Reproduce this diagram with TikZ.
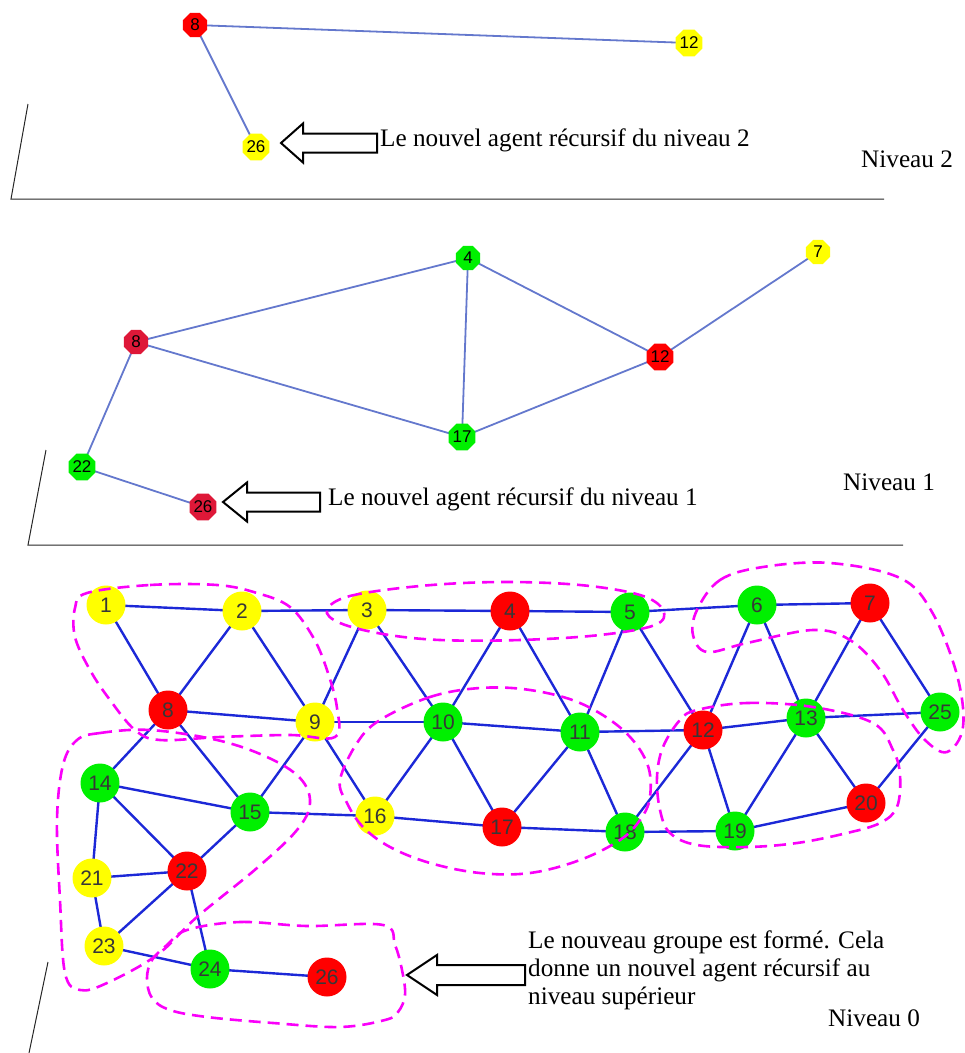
\documentclass[tikz,border=0pt]{standalone}
\usepackage{fontspec}
\setmainfont{Liberation Serif}
\newfontfamily\numfont{Liberation Sans}
\usetikzlibrary{shapes.geometric}
\definecolor{nred}{RGB}{255,0,0}
\definecolor{ncrim}{RGB}{222,24,56}
\definecolor{nyel}{RGB}{255,255,0}
\definecolor{ngreen}{RGB}{0,240,0}
\definecolor{eblue}{RGB}{28,40,215}
\definecolor{lblue}{RGB}{100,120,205}
\definecolor{grpcol}{RGB}{250,0,250}
\definecolor{numgray}{RGB}{55,55,55}
\tikzset{
  big/.style={circle,inner sep=0pt,minimum size=39pt,font=\numfont\fontsize{21}{21}\selectfont,text=numgray},
  small/.style={regular polygon,regular polygon sides=8,inner sep=0pt,minimum size=26pt,font=\numfont\fontsize{17}{17}\selectfont,text=black},
  fr/.style={fill=nred}, fc/.style={fill=ncrim}, fy/.style={fill=nyel}, fg/.style={fill=ngreen},
  e0/.style={draw=eblue,line width=2.4pt},
  e1/.style={draw=lblue,line width=1.8pt},
  grp/.style={draw=grpcol,line width=2.6pt,dash pattern=on 12pt off 7pt},
  plane/.style={draw=black!85,line width=1pt},
  barrow/.style={draw=black,line width=2pt,fill=white,line join=miter},
  lbl/.style={font=\fontsize{25.2}{28}\selectfont,inner sep=0pt,anchor=base west},
}
\begin{document}
\begin{tikzpicture}[x=1pt,y=-1pt]
\useasboundingbox (0,0) rectangle (965,1053);
% ---------- planes ----------
\draw[plane] (28,104) -- (11,199) -- (884,199);
\draw[plane] (46,450) -- (28,545) -- (903,545);
\draw[plane] (48,962) -- (29,1053);
% ---------- level 2 ----------
\coordinate (q8) at (195,25);
\coordinate (q12) at (689,43);
\coordinate (q26) at (256,147);
\draw[e1] (q8) -- (q12);
\draw[e1] (q8) -- (q26);
\node[small,fr] (b8) at (q8) {8};
\node[small,fy] (b12) at (q12) {12};
\node[small,fy] (b26) at (q26) {26};
\coordinate (t2) at (281,143);
\draw[barrow] (t2) -- ++(22,-19.5) -- ++(0,10) -- ++(74,0) -- ++(0,19) -- ++(-74,0) -- ++(0,10) -- cycle;
\node[lbl] (txt2) at (380,146) {Le nouvel agent récursif du niveau 2};
\node[lbl] (niv2) at (861,167) {Niveau 2};
% ---------- level 1 ----------
\coordinate (a4) at (468,258);
\coordinate (a7) at (818,252);
\coordinate (a8) at (136,342);
\coordinate (a12) at (660,357);
\coordinate (a17) at (462,437);
\coordinate (a22) at (82,467);
\coordinate (a26) at (203,507);
\draw[e1] (a8) -- (a4);
\draw[e1] (a4) -- (a17);
\draw[e1] (a4) -- (a12);
\draw[e1] (a12) -- (a7);
\draw[e1] (a8) -- (a17);
\draw[e1] (a17) -- (a12);
\draw[e1] (a8) -- (a22);
\draw[e1] (a22) -- (a26);
\node[small,fg] (n4) at (a4) {4};
\node[small,fy] (n7) at (a7) {7};
\node[small,fc] (n8) at (a8) {8};
\node[small,fr] (n12) at (a12) {12};
\node[small,fg] (n17) at (a17) {17};
\node[small,fg] (n22) at (a22) {22};
\node[small,fc] (n26) at (a26) {26};
\coordinate (t1) at (223,502);
\draw[barrow] (t1) -- ++(24,-19.5) -- ++(0,10) -- ++(73,0) -- ++(0,19) -- ++(-73,0) -- ++(0,10) -- cycle;
\node[lbl] (txt1) at (328,505) {Le nouvel agent récursif du niveau 1};
\node[lbl] (niv1) at (843,490) {Niveau 1};
% ---------- level 0 ----------
\coordinate (p1) at (106,605);
\coordinate (p2) at (242,611);
\coordinate (p3) at (367,610);
\coordinate (p4) at (510,611);
\coordinate (p5) at (630,612);
\coordinate (p6) at (757,605);
\coordinate (p7) at (870,603);
\coordinate (p8) at (168,710);
\coordinate (p9) at (315,722);
\coordinate (p10) at (443,722);
\coordinate (p11) at (580,732);
\coordinate (p12) at (703,730);
\coordinate (p13) at (806,718);
\coordinate (p25) at (940,712);
\coordinate (p14) at (100,783);
\coordinate (p15) at (250,812);
\coordinate (p16) at (375,816);
\coordinate (p17) at (502,827);
\coordinate (p18) at (625,832);
\coordinate (p19) at (735,831);
\coordinate (p20) at (866,803);
\coordinate (p21) at (92,878);
\coordinate (p22) at (187,871);
\coordinate (p23) at (104,946);
\coordinate (p24) at (210,969);
\coordinate (p26) at (327,977);
\foreach \a/\b in {1/2,2/3,3/4,4/5,5/6,6/7,
  1/8,2/8,2/9,3/9,3/10,4/10,4/11,5/11,5/12,6/12,6/13,7/13,7/25,
  8/9,9/10,10/11,11/12,12/13,13/25,
  8/14,8/15,9/15,9/16,10/16,10/17,11/17,11/18,12/18,12/19,13/19,13/20,25/20,
  14/15,15/16,16/17,17/18,18/19,19/20,
  14/21,14/22,15/22,21/22,21/23,22/23,22/24,23/24,24/26}
  \draw[e0] (p\a) -- (p\b);
\foreach \n/\c in {1/fy,2/fy,3/fy,4/fr,5/fg,6/fg,7/fr,8/fr,9/fy,10/fg,11/fg,12/fr,13/fg,25/fg,
  14/fg,15/fg,16/fy,17/fr,18/fg,19/fg,20/fr,21/fy,22/fr,23/fy,24/fg,26/fr}
  \node[big,\c] (m\n) at (p\n) {\n};
% groups
\draw[grp] plot[smooth cycle,tension=0.6] coordinates {(87,593) (150,585) (217,585) (257,593) (290,607) (313,637) (327,670) (337,708) (335,737) (290,735) (220,737) (160,740) (135,730) (110,700) (90,670) (75,637) (75,608)};
\draw[grp] plot[smooth cycle,tension=0.6] coordinates {(327,610) (350,596) (420,586) (500,582) (580,585) (640,595) (663,610) (655,625) (600,635) (520,640) (440,640) (383,634) (340,623)};
\draw[grp] plot[smooth cycle,tension=0.6] coordinates {(77,740) (100,733) (150,730) (217,740) (267,757) (300,778) (310,803) (297,830) (257,868) (197,917) (157,955) (107,983) (80,990) (65,973) (60,900) (57,820) (63,765)};
\draw[grp] plot[smooth cycle,tension=0.6] coordinates {(187,930) (240,922) (307,926) (383,925) (395,945) (402,970) (405,995) (398,1012) (385,1020) (340,1027) (273,1023) (207,1017) (170,1010) (152,998) (147,978) (152,960) (167,945)};
\draw[grp] plot[smooth cycle,tension=0.6] coordinates {(697,610) (720,580) (763,567) (830,563) (900,578) (932,612) (957,675) (963,727) (947,752) (925,740) (903,710) (880,670) (850,640) (813,630) (747,643) (707,652) (693,635)};
\draw[grp] plot[smooth cycle,tension=0.6] coordinates {(697,710) (747,703) (813,707) (873,723) (893,750) (900,775) (897,807) (880,823) (847,833) (797,843) (747,847) (697,845) (670,833) (660,810) (657,777) (663,747) (680,720)};
\draw[grp] plot[smooth cycle,tension=0.6] coordinates {(380,720) (430,697) (480,688) (530,690) (580,703) (623,730) (647,763) (650,797) (640,820) (620,840) (580,860) (530,873) (480,873) (430,863) (390,847) (363,827) (347,803) (340,780) (357,743)};
\coordinate (t0) at (407,975);
\draw[barrow] (t0) -- ++(30,-20) -- ++(0,10) -- ++(88,0) -- ++(0,20) -- ++(-88,0) -- ++(0,10) -- cycle;
\node[lbl] (txt0a) at (528,948) {Le nouveau groupe est formé. Cela};
\node[lbl] (txt0b) at (528,976) {donne un nouvel agent récursif au};
\node[lbl] (txt0c) at (528,1004) {niveau supérieur};
\node[lbl] (niv0) at (828,1026) {Niveau 0};
\end{tikzpicture}
\end{document}
